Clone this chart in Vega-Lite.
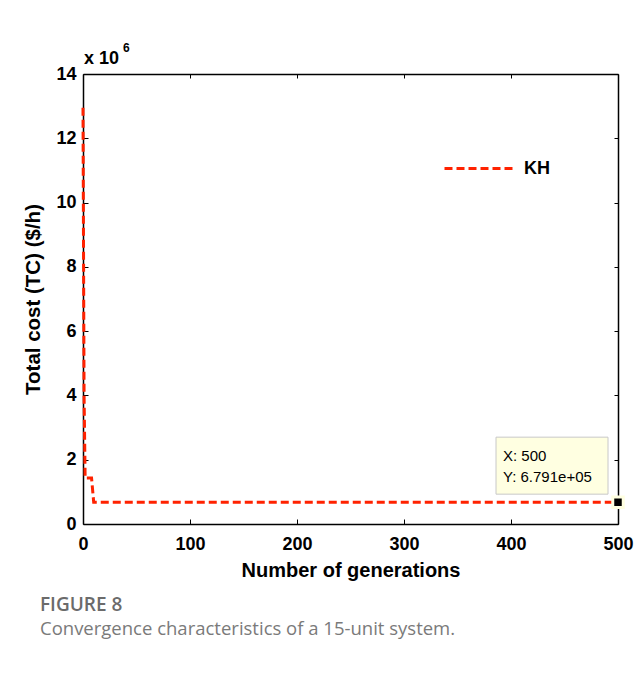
{
  "$schema": "https://vega.github.io/schema/vega-lite/v6.json",
  "width": 535,
  "height": 450,
  "autosize": {"type": "none"},
  "padding": {"left": 83, "top": 74, "right": 26, "bottom": 149},
  "background": "white",
  "config": {"font": "Liberation Sans", "view": {"stroke": null}},
  "title": {
    "text": "FIGURE 8",
    "subtitle": "Convergence characteristics of a 15-unit system.",
    "orient": "bottom",
    "anchor": "start",
    "frame": "group",
    "dx": -43,
    "offset": 16,
    "font": "Open Sans",
    "fontSize": 19,
    "fontWeight": 600,
    "color": "#6b6b6b",
    "subtitleFont": "Open Sans",
    "subtitleFontSize": 18.5,
    "subtitleColor": "#7a7a7a",
    "subtitlePadding": 5
  },
  "datasets": {
    "kh": [
      {"gen": 0, "tc": 12950000, "algo": "KH"},
      {"gen": 1, "tc": 4000000, "algo": "KH"},
      {"gen": 2, "tc": 1430000, "algo": "KH"},
      {"gen": 8, "tc": 1430000, "algo": "KH"},
      {"gen": 10, "tc": 679100, "algo": "KH"},
      {"gen": 500, "tc": 679100, "algo": "KH"}
    ],
    "tip": [{"gen": 500, "tc": 679100}]
  },
  "layer": [
    {
      "data": {"name": "kh"},
      "mark": {"type": "line", "strokeDash": [8, 4], "strokeWidth": 3},
      "encoding": {
        "x": {
          "field": "gen", "type": "quantitative",
          "scale": {"domain": [0, 500], "nice": false},
          "axis": {
            "orient": "bottom", "values": [0, 100, 200, 300, 400, 500], "labelFlush": false,
            "tickSize": -5, "tickColor": "black", "domainColor": "black", "domainWidth": 1.5,
            "labelFontSize": 18, "labelFontWeight": "bold", "labelColor": "black", "labelPadding": 16,
            "grid": false, "title": "Number of generations", "titleFontSize": 20,
            "titleFontWeight": "bold", "titleColor": "black", "titlePadding": 7
          }
        },
        "y": {
          "field": "tc", "type": "quantitative",
          "scale": {"domain": [0, 14000000], "nice": false, "zero": false},
          "axis": {
            "orient": "left", "values": [0, 2000000, 4000000, 6000000, 8000000, 10000000, 12000000, 14000000],
            "labelExpr": "format(datum.value/1000000, 'd')", "labelFlush": false,
            "tickSize": -5, "tickColor": "black", "domainColor": "black", "domainWidth": 1.5,
            "labelFontSize": 18, "labelFontWeight": "bold", "labelColor": "black", "labelPadding": 12,
            "grid": false, "title": "Total cost (TC) ($/h)", "titleFontSize": 20.5,
            "titleFontWeight": "bold", "titleColor": "black", "titlePadding": 12
          }
        },
        "color": {
          "field": "algo", "type": "nominal",
          "scale": {"range": ["#ff2200"]},
          "legend": {
            "orient": "none", "legendX": 360, "legendY": 58, "title": null,
            "symbolType": "stroke", "symbolSize": 4900, "symbolStrokeWidth": 3,
            "symbolDash": [8, 4], "labelFontSize": 18, "labelFontWeight": "bold",
            "labelColor": "black", "labelOffset": 8
          }
        }
      }
    },
    {
      "data": {"name": "tip"},
      "mark": {"type": "rect", "fill": "#ffffe1", "stroke": "#c8c8c8", "strokeWidth": 1,
               "xOffset": -122, "x2Offset": -10, "yOffset": -65, "y2Offset": -8},
      "encoding": {
        "x": {"field": "gen", "type": "quantitative", "axis": null},
        "x2": {"field": "gen"},
        "y": {"field": "tc", "type": "quantitative", "axis": null},
        "y2": {"field": "tc"}
      }
    },
    {
      "data": {"name": "tip"},
      "mark": {"type": "text", "text": "X: 500", "align": "left", "baseline": "middle",
               "dx": -115, "dy": -46, "fontSize": 15, "color": "black"},
      "encoding": {
        "x": {"field": "gen", "type": "quantitative", "axis": null},
        "y": {"field": "tc", "type": "quantitative", "axis": null}
      }
    },
    {
      "data": {"name": "tip"},
      "mark": {"type": "text", "text": "Y: 6.791e+05", "align": "left", "baseline": "middle",
               "dx": -115, "dy": -25, "fontSize": 15, "color": "black"},
      "encoding": {
        "x": {"field": "gen", "type": "quantitative", "axis": null},
        "y": {"field": "tc", "type": "quantitative", "axis": null}
      }
    },
    {
      "data": {"name": "tip"},
      "mark": {"type": "text", "text": "x 10", "align": "left", "baseline": "alphabetic",
               "dx": 1, "dy": -10, "fontSize": 18, "fontWeight": "bold", "color": "black"},
      "encoding": {
        "x": {"datum": 0, "type": "quantitative", "axis": null},
        "y": {"datum": 14000000, "type": "quantitative", "axis": null}
      }
    },
    {
      "data": {"name": "tip"},
      "mark": {"type": "text", "text": "6", "align": "left", "baseline": "alphabetic",
               "dx": 40, "dy": -22, "fontSize": 12, "fontWeight": "bold", "color": "black"},
      "encoding": {
        "x": {"datum": 0, "type": "quantitative", "axis": null},
        "y": {"datum": 14000000, "type": "quantitative", "axis": null}
      }
    },
    {
      "data": {"name": "tip"},
      "mark": {"type": "point", "shape": "square", "size": 110, "filled": true,
               "fill": "black", "stroke": "#ffffe1", "strokeWidth": 3, "opacity": 1},
      "encoding": {
        "x": {
          "field": "gen", "type": "quantitative",
          "axis": {"orient": "top", "values": [0, 100, 200, 300, 400, 500], "labels": false,
                   "tickSize": -4, "tickColor": "black", "domainColor": "black", "domainWidth": 1.5,
                   "grid": false, "title": null}
        },
        "y": {
          "field": "tc", "type": "quantitative",
          "axis": {"orient": "right", "values": [0, 2000000, 4000000, 6000000, 8000000, 10000000, 12000000, 14000000],
                   "labels": false, "tickSize": -4, "tickColor": "black", "domainColor": "black",
                   "domainWidth": 1.5, "grid": false, "title": null}
        }
      }
    }
  ],
  "resolve": {"axis": {"x": "independent", "y": "independent"}}
}
